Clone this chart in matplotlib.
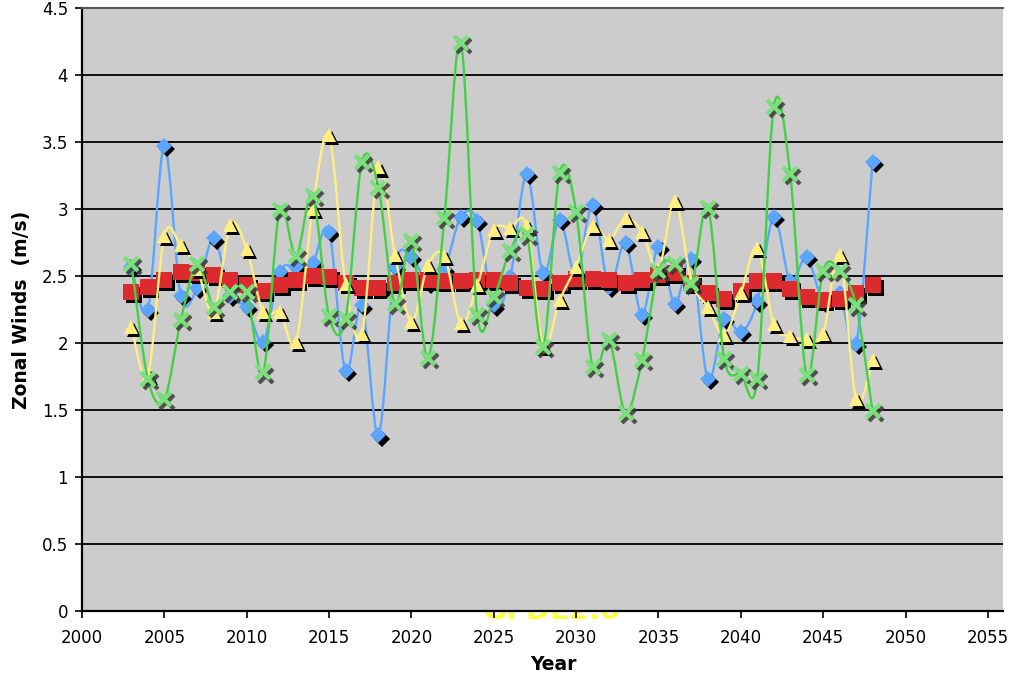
import numpy as np
import matplotlib
matplotlib.use("Agg")
import matplotlib.pyplot as plt
from matplotlib.path import Path
from matplotlib.patches import PathPatch
import matplotlib.transforms as mtransforms

years = list(range(2003, 2049))

series_blue = [2.57, 2.25, 3.47, 2.35, 2.41, 2.78, 2.35, 2.27, 2.01, 2.53,
               2.57, 2.60, 2.83, 1.79, 2.28, 1.31, 2.57, 2.64, 2.45, 2.55,
               2.94, 2.91, 2.28, 2.49, 3.26, 2.52, 2.92, 2.50, 3.03, 2.42,
               2.75, 2.21, 2.72, 2.29, 2.63, 1.73, 2.18, 2.08, 2.31, 2.94,
               2.46, 2.64, 2.31, 2.37, 1.99, 3.35]

series_red = [2.38, 2.42, 2.47, 2.53, 2.52, 2.51, 2.47, 2.43, 2.39, 2.43,
              2.47, 2.50, 2.49, 2.45, 2.41, 2.41, 2.45, 2.47, 2.47, 2.46,
              2.46, 2.47, 2.47, 2.45, 2.41, 2.40, 2.45, 2.48, 2.48, 2.47,
              2.45, 2.47, 2.51, 2.52, 2.45, 2.37, 2.33, 2.39, 2.46, 2.46,
              2.40, 2.34, 2.32, 2.33, 2.37, 2.43]

series_yellow = [2.12, 1.76, 2.80, 2.73, 2.55, 2.23, 2.88, 2.70, 2.23, 2.23,
                 2.01, 3.00, 3.55, 2.44, 2.07, 3.31, 2.66, 2.16, 2.58, 2.65,
                 2.15, 2.43, 2.84, 2.86, 2.87, 1.98, 2.32, 2.57, 2.87, 2.77,
                 2.93, 2.83, 2.55, 3.06, 2.46, 2.27, 2.06, 2.37, 2.71, 2.14,
                 2.05, 2.03, 2.07, 2.66, 1.58, 1.87]

series_green = [2.59, 1.73, 1.58, 2.17, 2.59, 2.27, 2.38, 2.38, 1.78, 2.99,
                2.65, 3.10, 2.20, 2.18, 3.35, 3.16, 2.29, 2.76, 1.89, 2.93,
                4.24, 2.21, 2.34, 2.69, 2.81, 1.97, 3.27, 2.98, 1.82, 2.02,
                1.48, 1.87, 2.54, 2.59, 2.44, 3.01, 1.88, 1.77, 1.73, 3.76,
                3.26, 1.76, 2.54, 2.54, 2.28, 1.49]

x_ticks = [2000, 2005, 2010, 2015, 2020, 2025, 2030, 2035, 2040, 2045, 2050, 2055]
y_ticks = [0, 0.5, 1, 1.5, 2, 2.5, 3, 3.5, 4, 4.5]
y_tick_labels = ["0", "0.5", "1", "1.5", "2", "2.5", "3", "3.5", "4", "4.5"]


def smooth_path(x, y):
    x = np.asarray(x, float)
    y = np.asarray(y, float)
    n = len(x)
    verts = [(x[0], y[0])]
    codes = [Path.MOVETO]
    for i in range(n - 1):
        p0 = (x[i - 1], y[i - 1]) if i > 0 else (x[i], y[i])
        p1 = (x[i], y[i])
        p2 = (x[i + 1], y[i + 1])
        p3 = (x[i + 2], y[i + 2]) if i + 2 < n else p2
        c1 = (p1[0] + (p2[0] - p0[0]) / 6.0, p1[1] + (p2[1] - p0[1]) / 6.0)
        c2 = (p2[0] - (p3[0] - p1[0]) / 6.0, p2[1] - (p3[1] - p1[1]) / 6.0)
        verts += [c1, c2, p2]
        codes += [Path.CURVE4] * 3
    return Path(verts, codes)


fig = plt.figure(figsize=(10.16, 6.76), dpi=100)
fig.patch.set_facecolor("white")

ax_left, ax_right = 82 / 1016, 1003 / 1016
ax_bottom, ax_top = (676 - 611) / 676, (676 - 8) / 676
ax = fig.add_axes([ax_left, ax_bottom, ax_right - ax_left, ax_top - ax_bottom])
ax.set_facecolor("#cccccc")

px_per_year = 16.47
ax.set_xlim(2000, 2000 + 921 / px_per_year)
ax.set_ylim(0, 4.5)

for yv in y_ticks[1:-1]:
    ax.axhline(yv, color="black", lw=1.3, zorder=1)

shadow = ax.transData + mtransforms.ScaledTranslation(2.2 / 72, -2.2 / 72, fig.dpi_scale_trans)

styles = [
    (series_blue, "#5aa5ff", "#5aa5ff", "D", 8.5, 1.0, "black"),
    (series_red, "#dd2a2e", "#dd2a2e", "s", 11, 1.0, "black"),
    (series_yellow, "#ffee80", "#ffee80", "^", 10, 1.0, "black"),
    (series_green, "#44d044", "#7be07b", "x", 10, 3.0, "#3a3a3a"),
]

for k, (vals, lc, mc, mk, ms, mew, sc) in enumerate(styles):
    z = 3 + k
    patch = PathPatch(smooth_path(years, vals), facecolor="none", edgecolor=lc,
                      lw=1.7, zorder=z, capstyle="round", joinstyle="round")
    ax.add_patch(patch)
    if mk == "x":
        ax.plot(years, vals, linestyle="none", marker=mk, ms=ms, mew=mew,
                color=sc, transform=shadow, zorder=z + 0.1, alpha=0.85)
        ax.plot(years, vals, linestyle="none", marker=mk, ms=ms, mew=mew,
                color=mc, zorder=z + 0.2)
    else:
        ax.plot(years, vals, linestyle="none", marker=mk, ms=ms, mfc=sc,
                mec=sc, mew=0, transform=shadow, zorder=z + 0.1)
        ax.plot(years, vals, linestyle="none", marker=mk, ms=ms, mfc=mc,
                mec=mc, mew=0, zorder=z + 0.2)

ax.set_xticks(x_ticks)
ax.set_xticklabels([str(t) for t in x_ticks])
ax.set_yticks(y_ticks)
ax.set_yticklabels(y_tick_labels)
ax.tick_params(axis="both", direction="out", length=5, width=1.2,
               labelsize=12, colors="black")
ax.tick_params(axis="x", pad=8)
ax.tick_params(axis="y", pad=5)

for side in ["left", "bottom"]:
    ax.spines[side].set_color("black")
    ax.spines[side].set_linewidth(1.6)
ax.spines["top"].set_color("#555555")
ax.spines["top"].set_linewidth(1.5)
ax.spines["right"].set_visible(False)

fig.text(22 / 1016, 1 - 310 / 676, "Zonal Winds  (m/s)", rotation=90,
         ha="center", va="center", fontsize=13.5, fontweight="bold")
fig.text(553 / 1016, 1 - 664 / 676, "Year", ha="center", va="center",
         fontsize=13.5, fontweight="bold")

# Partially hidden text behind the plot area
fig.text(551 / 1016, (676 - 619) / 676, "GFDL2.0", ha="center", va="baseline",
         fontsize=21, fontweight="bold", color="#ffff44", zorder=-1)

fig.savefig("out.png", dpi=100, facecolor="white")
